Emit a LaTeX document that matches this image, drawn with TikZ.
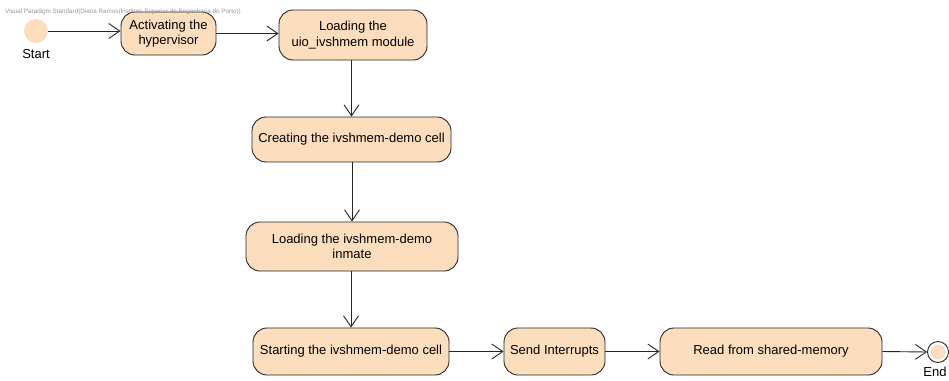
\documentclass[tikz,border=0pt]{standalone}
\usepackage{fontspec}
\setmainfont{Liberation Sans}
\usetikzlibrary{arrows.meta}
\definecolor{peach}{RGB}{252,222,190}
\definecolor{mark}{RGB}{150,150,150}
\tikzset{
  act/.style={draw=black!85, line width=0.9pt, fill=peach, rounded corners=14pt,
              align=center, font=\fontsize{13}{15.5}\selectfont, inner sep=0pt},
  arr/.style={draw=black!85, line width=0.9pt, -{Straight Barb[length=11pt,width=15pt,line width=0.9pt]}},
  lbl/.style={font=\fontsize{13}{15}\selectfont}
}
\begin{document}
\begin{tikzpicture}[x=1pt,y=-1pt]
\useasboundingbox (0,0) rectangle (949,380);
\fill[white] (0,0) rectangle (949,380);

% initial node
\fill[peach] (36,31) circle (12);
\node (start) at (36,31) [circle, minimum size=24pt, inner sep=0pt] {};
\node[lbl] (startlbl) at (36,54) {Start};

% actions
\node[act, minimum width=95pt, minimum height=43pt] (hyp) at (168.5,33.5) {Activating the\\hypervisor};
\node[act, minimum width=148pt, minimum height=50pt] (uio) at (353,35) {Loading the\\uio\_ivshmem module};
\node[act, minimum width=199pt, minimum height=45pt] (cell) at (351.5,139.5) {Creating the ivshmem-demo cell};
\node[act, minimum width=212pt, minimum height=49pt] (inm) at (352,246.5) {Loading the ivshmem-demo\\inmate};
\node[act, minimum width=196pt, minimum height=47pt] (run) at (351,351.5) {Starting the ivshmem-demo cell};
\node[act, minimum width=101pt, minimum height=47pt] (irq) at (554.5,351.5) {Send Interrupts};
\node[act, minimum width=222pt, minimum height=47pt] (rd) at (771,351.5) {Read from shared-memory};

% final node
\node[circle, draw=black!85, line width=0.9pt, fill=white, minimum size=21pt, inner sep=0pt] (end) at (938,352) {};
\fill[peach] (end.center) circle (7.5);
\node[lbl, anchor=north] (endlbl) at (935,364) {End};

% control flows
\draw[arr] (start.east) -- (start.east -| hyp.west);
\draw[arr] (hyp.east) -- (hyp.east -| uio.west);
\draw[arr] (cell.north |- uio.south) -- (cell.north);
\draw[arr] (inm.north |- cell.south) -- (inm.north);
\draw[arr] (inm.south -| run.north) -- (run.north);
\draw[arr] (run.east) -- (irq.west);
\draw[arr] (irq.east) -- (rd.west);
\draw[arr] (rd.east) -- (end.west);

% header line of the modelling tool, printed over everything
\node[anchor=west, text=mark, font=\fontsize{6.3}{7}\selectfont, inner sep=0pt] (hdr) at (5,12)
  {Visual Paradigm Standard(Diana Ramos(Instituto Superior de Engenharia do Porto))};
\end{tikzpicture}
\end{document}
